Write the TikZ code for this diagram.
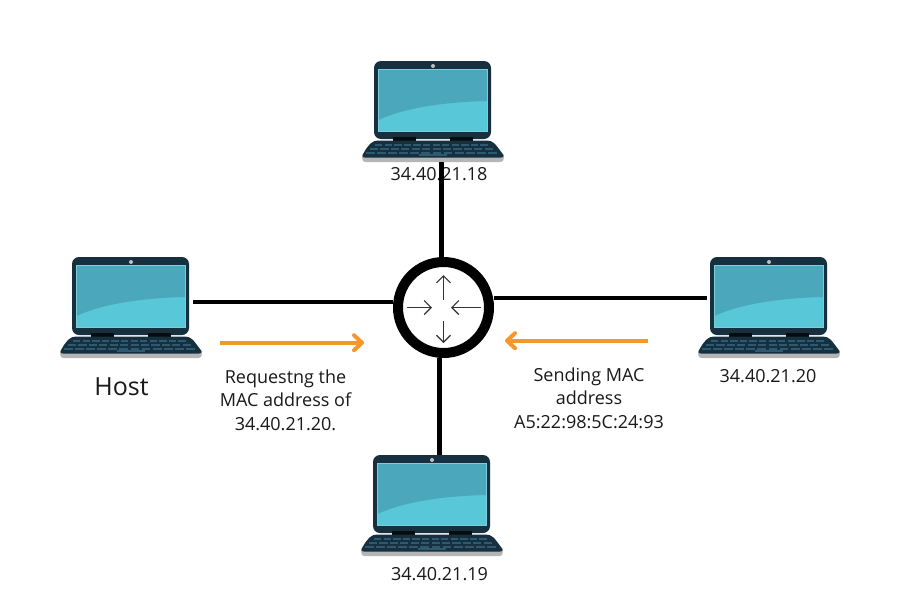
\documentclass[tikz,border=0pt]{standalone}
\usepackage{fontspec}
\setmainfont{Open Sans}
\usetikzlibrary{arrows.meta}
\definecolor{lapdark}{HTML}{17303F}
\definecolor{lapkey}{HTML}{2E5A70}
\definecolor{lapsilver}{HTML}{B5B5B5}
\definecolor{scrlight}{HTML}{58C8D8}
\definecolor{scrdark}{HTML}{4BA8BC}
\definecolor{lapedge}{HTML}{7CCFD9}
\definecolor{orangearrow}{HTML}{F7962B}
\tikzset{
  x=1pt,y=-1pt,
  link/.style={line width=4.5pt,black},
  flow/.style={line width=4pt,orangearrow,-{Straight Barb[length=8pt,width=15pt,line width=4pt,round]}},
  inner/.style={line width=1.1pt,black!80,-{Straight Barb[length=7pt,width=14pt,line width=1.1pt]}},
  label/.style={font=\fontsize{18}{23.5}\selectfont,text=black!90,align=center,inner sep=0pt},
  frame/.style={inner sep=0pt,minimum width=124pt,minimum height=101pt,draw=none},
}
\newcommand{\laptop}[3]{%
  \begin{scope}[shift={(#1,#2)}]
    % lid, origin at the lid's top left corner
    \fill[lapdark,rounded corners=7pt] (0,0) rectangle (117,78);
    \fill[lightgray] (59,5) circle (2pt);
    \fill[scrlight] (4.5,8) rectangle (113,70);
    \fill[scrdark] (4.5,8) -- (113,8) -- (113,40) .. controls (70,41) and (30,47) .. (4.5,59) -- cycle;
    \draw[lapedge,line width=.6pt] (4.5,8) rectangle (113,70);
    % hinges
    \fill[black!75!lapdark] (19,76) rectangle (42,80);
    \fill[black!75!lapdark] (76,76) rectangle (99,80);
    % base
    \fill[lapsilver] (-11.5,94) .. controls (-12.5,99) and (-11,101) .. (-8,101) -- (126,101) .. controls (129,101) and (130.5,99) .. (129.5,94) -- cycle;
    \fill[lapdark] (4,79.5) -- (113,79.5) .. controls (119,79.5) and (122,84) .. (125,88) -- (129.5,94) .. controls (130.5,96) and (129,96.5) .. (127,96.5) -- (-9,96.5) .. controls (-11,96.5) and (-12.5,96) .. (-11.5,94) -- (-8,88) .. controls (-5,84) and (-2,79.5) .. (4,79.5) -- cycle;
    \foreach \r/\yy/\xa/\xb in {0/83/1/116,1/87/-4/121,2/91/-8/125}{
      \foreach \k in {0,...,11}{
        \pgfmathsetmacro{\kx}{\xa+(\xb-\xa)*\k/12}
        \pgfmathsetmacro{\kw}{(\xb-\xa)/12-2.2}
        \fill[lapkey] (\kx,\yy) rectangle ++(\kw,1.8);
      }
    }
    \fill[lapkey] (45,92.5) rectangle (73,95);
    \node[frame] (#3) at (59,50.5) {};
  \end{scope}
}
\begin{document}
\begin{tikzpicture}
\useasboundingbox (0,0) rectangle (900,600);
\fill[white] (0,0) rectangle (900,600);

\laptop{374}{61}{top}
\laptop{72}{257}{host}
\laptop{710}{257}{right}
\laptop{373}{455}{bottom}

% hub
\node[circle,draw=black,line width=10pt,minimum size=91pt,inner sep=0pt,outer sep=5pt] (hub) at (443.5,307.5) {};
\draw[inner] ([yshift=7.5pt]hub.center) -- ([yshift=32.5pt]hub.center);
\draw[inner] ([yshift=-13.5pt]hub.center) -- ([yshift=-35.5pt]hub.center);
\draw[inner] ([xshift=-36.5pt]hub.center) -- ([xshift=-11.5pt]hub.center);
\draw[inner] ([xshift=37.5pt]hub.center) -- ([xshift=7.5pt]hub.center);

% labels
\node[label] (ltop) at (439,174) {34.40.21.18};
\node[label] (lbottom) at (439.5,574) {34.40.21.19};
\node[label] (lright) at (768,376) {34.40.21.20};
\node[label,font=\fontsize{25}{30}\selectfont] (lhost) at (121.5,387) {Host};
\node[label] (lreq) at (285.5,400) {Requestng the\\MAC address of\\34.40.21.20.};
\node[label] (lsend) at (589,398) {Sending MAC\\address\\A5:22:98:5C:24:93};

% connectors
\draw[link] ([xshift=-2pt]hub.north) -- ([xshift=-2pt]hub.north |- top.south);
\draw[link] ([xshift=-4pt]hub.south) -- ([xshift=-4pt]hub.south |- bottom.north);
\draw[link] ([yshift=5.5pt]hub.west) -- ([yshift=5.5pt]hub.west -| host.east);
\draw[link] ([yshift=9.5pt]hub.east) -- ([yshift=9.5pt]hub.east -| right.west);

% flows
\coordinate (fa) at (220,342.7);
\coordinate (fb) at (364,342.7);
\coordinate (fc) at (648,340.7);
\coordinate (fd) at (505,340.7);
\draw[flow] (fa) -- (fb);
\draw[flow] (fc) -- (fd);
\end{tikzpicture}
\end{document}
